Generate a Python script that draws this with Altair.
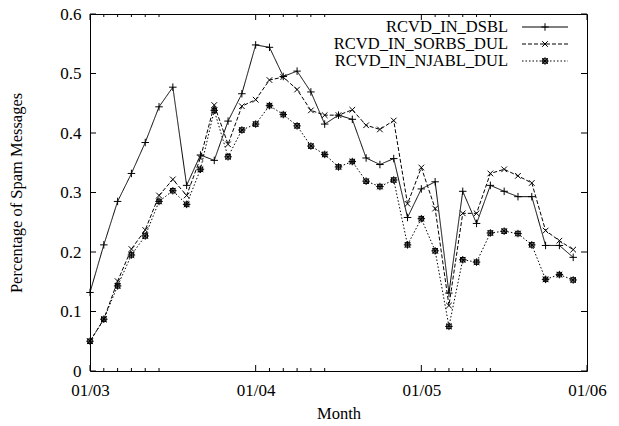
import altair as alt
import pandas as pd

series_names = ["RCVD_IN_DSBL", "RCVD_IN_SORBS_DUL", "RCVD_IN_NJABL_DUL"]
month_idx = list(range(36))  # months since 01/03

dsbl = [0.132, 0.212, 0.285, 0.332, 0.384, 0.444, 0.477, 0.312, 0.363, 0.354,
        0.420, 0.466, 0.548, 0.544, 0.495, 0.504, 0.469, 0.415, 0.430, 0.423,
        0.358, 0.347, 0.357, 0.258, 0.306, 0.318, 0.131, 0.302, 0.248, 0.312,
        0.302, 0.293, 0.293, 0.211, 0.211, 0.191]
sorbs = [0.050, 0.087, 0.151, 0.205, 0.237, 0.295, 0.322, 0.295, 0.358, 0.447,
         0.381, 0.445, 0.456, 0.489, 0.494, 0.473, 0.438, 0.430, 0.430, 0.439,
         0.413, 0.406, 0.421, 0.281, 0.342, 0.273, 0.110, 0.265, 0.265, 0.332,
         0.339, 0.328, 0.316, 0.236, 0.219, 0.204]
njabl = [0.050, 0.087, 0.143, 0.195, 0.227, 0.285, 0.303, 0.280, 0.339, 0.438,
         0.360, 0.405, 0.415, 0.446, 0.431, 0.412, 0.378, 0.364, 0.343, 0.352,
         0.319, 0.310, 0.321, 0.212, 0.256, 0.202, 0.075, 0.187, 0.183, 0.232,
         0.235, 0.231, 0.212, 0.154, 0.162, 0.153]

x_tick_labels = ["01/03", "01/04", "01/05", "01/06"]
x_major = [0, 12, 24, 36]
x_minor = [1, 2, 3, 4, 5, 13, 14, 15, 16, 17, 25, 26, 27, 28, 29]
y_ticks = [0, 0.1, 0.2, 0.3, 0.4, 0.5, 0.6]

W, H = 497, 357
FONT = "Liberation Serif"

rows = []
for name, vals in zip(series_names, [dsbl, sorbs, njabl]):
    for m, v in zip(month_idx, vals):
        rows.append({"month": m, "value": v, "series": name})
df = pd.DataFrame(rows)

PLUS = "M-1,0L1,0M0,-1L0,1"
CROSS = "M-0.75,-0.75L0.75,0.75M-0.75,0.75L0.75,-0.75"
STAR = "M-1,0L1,0M0,-1L0,1M-0.75,-0.75L0.75,0.75M-0.75,0.75L0.75,-0.75M-0.6,-0.6L0.6,-0.6L0.6,0.6L-0.6,0.6Z"
shapes = [PLUS, CROSS, STAR]
dashes = [[1, 0], [4, 2], [1.5, 2]]

xscale = alt.Scale(domain=[0, 36], nice=False, zero=False)
yscale = alt.Scale(domain=[0, 0.6], nice=False)

label_expr = "[" + ",".join("'%s'" % s for s in x_tick_labels) + "][round(datum.value/12)]"

x_axis = alt.Axis(values=x_major, labelExpr=label_expr, title="Month",
                  labelPadding=11, labelFlush=False, titleX=W / 2, titleY=42,
                  titleBaseline="middle", titleAlign="center")
y_axis = alt.Axis(values=y_ticks, format="~g", title="Percentage of Spam Messages",
                  labelPadding=9, labelFlush=False, titleX=-74, titleY=H / 2, titleAngle=270,
                  titleAlign="center", titleBaseline="middle")

X = alt.X("month:Q", scale=xscale, axis=x_axis)
Y = alt.Y("value:Q", scale=yscale, axis=y_axis)

base = alt.Chart(df)
lines = base.mark_line(color="black", strokeWidth=1).encode(
    x=X, y=Y,
    strokeDash=alt.StrokeDash("series:N", scale=alt.Scale(domain=series_names, range=dashes), legend=None),
    detail="series:N",
)
points = base.mark_point(color="black", filled=False, strokeWidth=1, size=56, opacity=1).encode(
    x=X, y=Y,
    shape=alt.Shape("series:N", scale=alt.Scale(domain=series_names, range=shapes), legend=None),
)

ydf = pd.DataFrame({"value": y_ticks})
yl = alt.Chart(ydf).mark_rule(color="black", strokeWidth=1).encode(
    y=Y, x=alt.value(0), x2=alt.value(6))
yr = alt.Chart(ydf).mark_rule(color="black", strokeWidth=1).encode(
    y=Y, x=alt.value(W - 6), x2=alt.value(W))

xmaj = pd.DataFrame({"month": x_major})
xmin = pd.DataFrame({"month": x_minor})
tick_layers = []
for d, ln in [(xmaj, 6), (xmin, 3)]:
    tick_layers.append(alt.Chart(d).mark_rule(color="black", strokeWidth=1).encode(
        x=X, y=alt.value(H), y2=alt.value(H - ln)))
    tick_layers.append(alt.Chart(d).mark_rule(color="black", strokeWidth=1).encode(
        x=X, y=alt.value(0), y2=alt.value(ln)))

legend_layers = []
leg_y = [13, 30, 47]
for i, name in enumerate(series_names):
    ld = alt.Data(values=[{"name": name}])
    legend_layers.append(alt.Chart(ld).mark_text(
        align="right", baseline="middle", font=FONT, fontSize=16.5, color="black").encode(
        text="name:N", x=alt.value(418), y=alt.value(leg_y[i])))
    legend_layers.append(alt.Chart(ld).mark_rule(
        color="black", strokeWidth=1, strokeDash=dashes[i]).encode(
        x=alt.value(432), x2=alt.value(478), y=alt.value(leg_y[i])))
    legend_layers.append(alt.Chart(ld).mark_point(
        color="black", filled=False, strokeWidth=1, size=56, opacity=1, shape=shapes[i]).encode(
        x=alt.value(455), y=alt.value(leg_y[i])))

chart = alt.layer(lines, points, yl, yr, *tick_layers, *legend_layers).properties(
    width=W, height=H,
    background="white",
    autosize=alt.AutoSizeParams(type="none"),
    padding={"left": 82, "top": 6, "right": 22, "bottom": 52},
).configure_view(stroke="black", strokeWidth=1).configure_axis(
    grid=False, domain=False, ticks=False, tickSize=0,
    labelFont=FONT, labelFontSize=17, labelColor="black",
    titleFont=FONT, titleFontSize=16.5, titleFontWeight="normal", titleColor="black",
)

chart.save("out.html", embed_options={"renderer": "svg", "actions": False})
